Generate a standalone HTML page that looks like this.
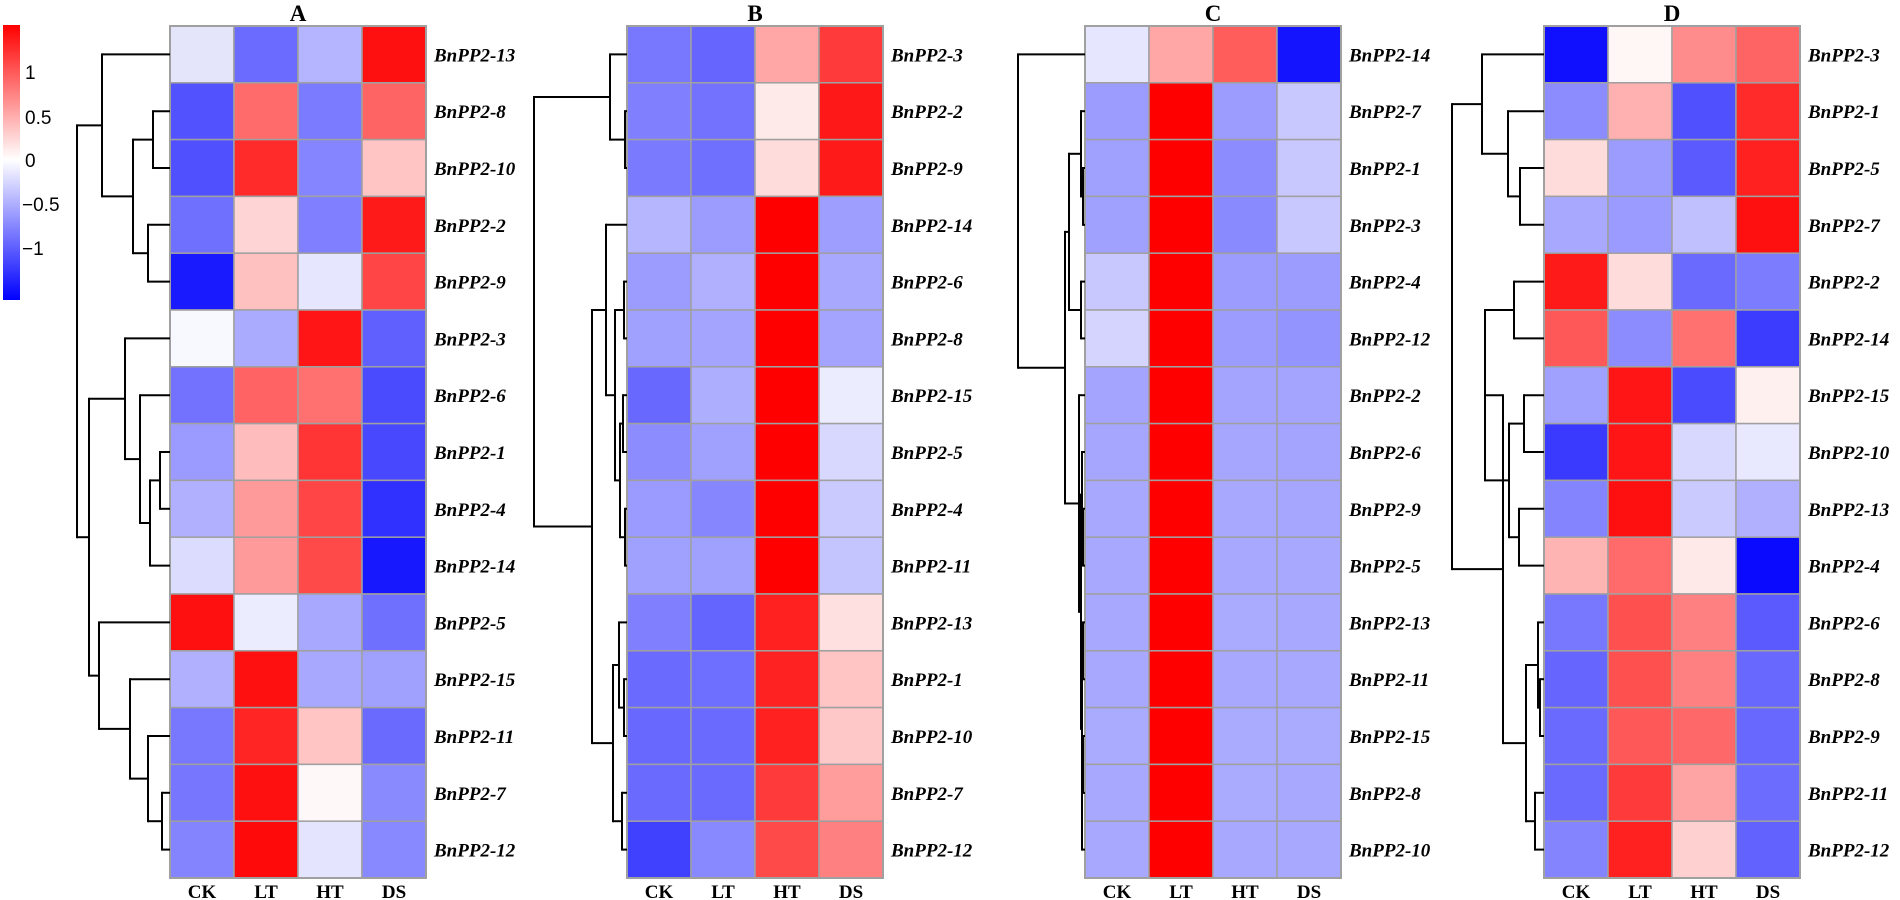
<!DOCTYPE html>
<html><head><meta charset="utf-8"><style>
html,body{margin:0;padding:0;background:#fff;}
svg{display:block;}
</style></head><body>
<svg id="s" width="1900" height="900" xmlns="http://www.w3.org/2000/svg">
<defs><linearGradient id="cb" x1="0" y1="0" x2="0" y2="1">
<stop offset="0" stop-color="#ff0000"/><stop offset="0.49" stop-color="#ffffff"/><stop offset="1" stop-color="#0000ff"/></linearGradient></defs>
<rect x="3" y="25" width="17" height="275" fill="url(#cb)"/>
<g font-family="Liberation Sans, sans-serif" font-size="19" fill="#000">
<text x="25" y="79">1</text><text x="25" y="124">0.5</text><text x="25" y="167">0</text>
<text x="22" y="211">−0.5</text><text x="22" y="255">−1</text></g>
</svg>
<script>
var S=document.getElementById('s'),NS='http://www.w3.org/2000/svg';
function el(t,a,txt){var e=document.createElementNS(NS,t);for(var k in a)e.setAttribute(k,a[k]);if(txt)e.textContent=txt;S.appendChild(e);return e;}
var TOP=26,RH=56.8,CW=64;
function rc(i){return TOP+RH*(i+0.5);}
var P=[
{x:170,t:'A',names:[13,8,10,2,9,3,6,1,4,14,5,15,11,7,12],c:[
['#e4e4fa','#6b6bff','#b5b5ff','#ff1010'],['#5252ff','#ff6b6b','#7b7bff','#ff6464'],['#5050ff','#ff2a2a','#8585ff','#ffc4c4'],
['#7070ff','#ffd4d4','#7f7fff','#ff1a1a'],['#1a1aff','#ffc0c0','#e6e6ff','#ff4545'],['#f8f8ff','#aaaaff','#ff1515','#6060ff'],
['#7272ff','#ff6363','#ff7070','#4a4aff'],['#9a9aff','#ffbcbc','#ff3535','#4848ff'],['#b0b0ff','#ff9a9a','#ff4545','#3030ff'],
['#dcdcff','#ff9a9a','#ff4a4a','#1818ff'],['#ff1010','#ececff','#a8a8ff','#7070ff'],['#b0b0ff','#ff1010','#a8a8ff','#a0a0ff'],
['#7878ff','#ff2525','#ffc4c4','#6a6aff'],['#7676ff','#ff1010','#fff8f8','#8a8aff'],['#8484ff','#ff0a0a','#e4e4ff','#8888ff']],
tree:[[0,[[1,2,17],[3,4,22],37],68],[[5,[6,[[7,8,10],9,20],30],45],[10,[11,[12,[13,14,8],22],40],71],81],93]},
{x:627,t:'B',names:[3,2,9,14,6,8,15,5,4,11,13,1,10,7,12],c:[
['#7878ff','#6666ff','#ffa6a6','#ff3a3a'],['#8080ff','#7272ff','#ffeaea','#ff1818'],['#7a7aff','#7070ff','#ffdcdc','#ff1a1a'],
['#b6b6ff','#9c9cff','#ff0000','#9e9eff'],['#9c9cff','#b0b0ff','#ff0000','#a8a8ff'],['#a0a0ff','#a4a4ff','#ff0000','#a4a4ff'],
['#6868ff','#aeaeff','#ff0000','#ececff'],['#8c8cff','#a0a0ff','#ff0000','#d8d8ff'],['#9a9aff','#8686ff','#ff0000','#cacaff'],
['#a0a0ff','#a0a0ff','#ff0000','#c4c4ff'],['#8080ff','#6464ff','#ff2020','#ffe0e0'],['#6a6aff','#6e6eff','#ff2222','#ffc4c4'],
['#6868ff','#6a6aff','#ff2020','#ffc8c8'],['#6a6aff','#6a6aff','#ff3a3a','#ff9c9c'],['#4040ff','#8888ff','#ff4a4a','#ff8080']],
tree:[[0,[1,2,2],17],[[3,[[4,5,3],[[6,7,4],[8,9,2],7],12],21],[[10,[11,12,3],8],[13,14,5],14],35],93]},
{x:1085,t:'C',names:[14,7,1,3,4,12,2,6,9,5,13,11,15,8,10],c:[
['#e6e6ff','#ffa6a6','#ff5c5c','#1414ff'],['#9c9cff','#ff0000','#9c9cff','#c8c8ff'],['#a0a0ff','#ff0000','#8c8cff','#c8c8ff'],
['#a0a0ff','#ff0000','#8a8aff','#c8c8ff'],['#c8c8ff','#ff0000','#9c9cff','#9c9cff'],['#d4d4ff','#ff0000','#9c9cff','#9494ff'],
['#a4a4ff','#ff0000','#a4a4ff','#a4a4ff'],['#a6a6ff','#ff0000','#a6a6ff','#a4a4ff'],['#a8a8ff','#ff0000','#a8a8ff','#a6a6ff'],
['#a8a8ff','#ff0000','#a8a8ff','#a8a8ff'],['#a8a8ff','#ff0000','#aaaaff','#a8a8ff'],['#a8a8ff','#ff0000','#a8a8ff','#a8a8ff'],
['#aaaaff','#ff0000','#aaaaff','#aaaaff'],['#a8a8ff','#ff0000','#aaaaff','#a8a8ff'],['#a8a8ff','#ff0000','#a8a8ff','#a8a8ff']],
tree:[0,[[[1,[2,3,2],4],[4,5,4],16],[6,[[7,[8,9,2],3],[[10,11,2],[[12,13,2],14,3],3],4],6],20],67]},
{x:1544,t:'D',names:[3,1,5,7,2,14,15,10,13,4,6,8,9,11,12],c:[
['#1010ff','#fff6f6','#ff8c8c','#ff6464'],['#8c8cff','#ffb0b0','#5050ff','#ff2a2a'],['#ffdcdc','#9c9cff','#5a5aff','#ff2020'],
['#a8a8ff','#9a9aff','#c0c0ff','#ff1010'],['#ff1a1a','#ffdcdc','#6a6aff','#7c7cff'],['#ff5858','#8c8cff','#ff7070','#3c3cff'],
['#a0a0ff','#ff1515','#4a4aff','#fff0f0'],['#3a3aff','#ff1515','#d8d8ff','#e8e8ff'],['#8484ff','#ff1010','#cacaff','#b0b0ff'],
['#ffb4b4','#ff6a6a','#ffe8e8','#0a0aff'],['#7878ff','#ff5050','#ff8080','#5a5aff'],['#6666ff','#ff5050','#ff8080','#6868ff'],
['#6a6aff','#ff5858','#ff6868','#6868ff'],['#6a6aff','#ff3a3a','#ffa4a4','#6c6cff'],['#8484ff','#ff2020','#ffd0d0','#6262ff']],
tree:[[0,[1,[2,3,24],36],62],[[[4,5,30],[[6,7,20],[8,9,25],35],59],[[10,[11,12,4],6],[13,14,9],18],41],92]}
];
var cols=['CK','LT','HT','DS'];
P.forEach(function(p){
  for(var i=0;i<15;i++)for(var j=0;j<4;j++)
    el('rect',{x:p.x+j*CW,y:TOP+i*RH,width:CW,height:RH,fill:p.c[i][j],stroke:'#a0a0a0','stroke-width':1.5});
  el('rect',{x:p.x,y:TOP,width:4*CW,height:15*RH,fill:'none',stroke:'#a0a0a0','stroke-width':2});
  for(var i=0;i<15;i++)
    el('text',{x:p.x+4*CW+8,y:rc(i)+7,'font-family':'Liberation Serif, serif','font-size':19,'font-weight':'bold','font-style':'italic'},'BnPP2-'+p.names[i]);
  for(var j=0;j<4;j++)
    el('text',{x:p.x+j*CW+CW/2,y:898,'text-anchor':'middle','font-family':'Liberation Serif, serif','font-size':19,'font-weight':'bold'},cols[j]);
  el('text',{x:p.x+2*CW,y:21,'text-anchor':'middle','font-family':'Liberation Serif, serif','font-size':23,'font-weight':'bold'},p.t);
  var L=p.x;
  function draw(n){
    if(typeof n==='number')return {x:L,y:rc(n)};
    var a=draw(n[0]),b=draw(n[1]),nx=L-n[2];
    el('line',{x1:a.x,y1:a.y,x2:nx,y2:a.y,stroke:'#000','stroke-width':2});
    el('line',{x1:b.x,y1:b.y,x2:nx,y2:b.y,stroke:'#000','stroke-width':2});
    el('line',{x1:nx,y1:a.y-1,x2:nx,y2:b.y+1,stroke:'#000','stroke-width':2});
    return {x:nx,y:(a.y+b.y)/2};
  }
  draw(p.tree);
});
</script>
</body></html>
